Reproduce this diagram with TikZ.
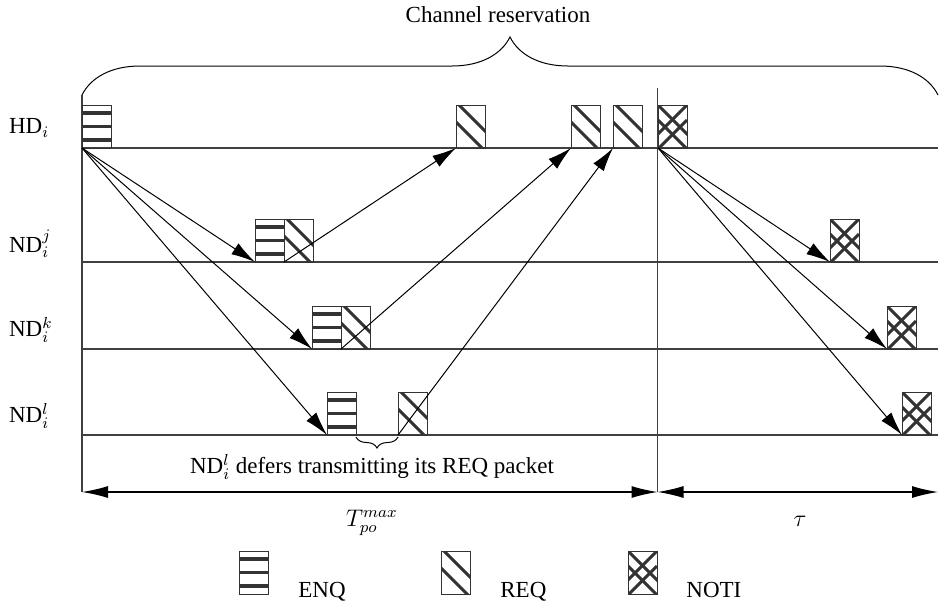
\documentclass[tikz,border=0pt]{standalone}
\usepackage{fontspec}
\setmainfont{Liberation Serif}
\usetikzlibrary{arrows.meta, positioning, decorations.pathreplacing}
\tikzset{
    % Packets
    hatch/.style  = {line width=1.5pt},
    packet/.style = {draw=black!80, line width=0.5pt, minimum width=14.5pt, minimum height=21.5pt,
                     inner sep=0pt, outer sep=0pt, anchor=south west},
    enq/.style    = {packet, path picture={
        \foreach \off in {4pt,10.75pt,17.5pt}
            \draw[hatch, line width=1.8pt] ([yshift=-\off]path picture bounding box.north west) -- ++(15pt,0pt);}},
    req/.style    = {packet, path picture={
        \draw[hatch] ([xshift=1.5pt]path picture bounding box.north west) -- ++(14pt,-14pt);
        \draw[hatch] ([yshift=-8.5pt]path picture bounding box.north west) -- ++(14pt,-14pt);}},
    noti/.style   = {packet, path picture={
        \foreach \off in {0pt,7.5pt} {
            \draw[hatch] ([yshift=-\off]path picture bounding box.north west) -- ++(15pt,-15pt);
            \draw[hatch] ([yshift=-\off]path picture bounding box.north east) -- ++(-15pt,-15pt);}}},
    % Lines and labels
    axis/.style   = {draw=black!75, line width=0.75pt},
    msg/.style    = {line width=0.5pt, -{Latex[length=12pt,width=6.5pt]}},
    span/.style   = {line width=0.6pt, {Latex[length=13pt,width=6pt]}-{Latex[length=13pt,width=6pt]}},
    curly/.style  = {line width=0.5pt, decorate, decoration={brace}},
    station/.style= {anchor=west},
    keytext/.style= {anchor=base west, inner sep=0pt}
}

\begin{document}
\begin{tikzpicture}[x=0.5pt, y=-0.5pt, font=\fontsize{11.5}{14}\selectfont]
    \useasboundingbox (0,0) rectangle (939,607);

    % time axes
    \coordinate (topleft)  at (82,95);
    \coordinate (topright) at (938,95);
    \coordinate (cut)      at (657.5,88);
    \coordinate (botleft)  at (82,492);
    \coordinate (botmid)   at (657.5,492);
    \coordinate (botright) at (938,492);
    \coordinate (hdA)  at (82,148);  \coordinate (hdB)  at (938,148);
    \coordinate (ndjA) at (82,262);  \coordinate (ndjB) at (938,262);
    \coordinate (ndkA) at (82,349);  \coordinate (ndkB) at (938,349);
    \coordinate (ndlA) at (82,435);  \coordinate (ndlB) at (938,435);

    \draw [axis] (hdA) -- (hdB);
    \draw [axis] (ndjA) -- (ndjB);
    \draw [axis] (ndkA) -- (ndkB);
    \draw [axis] (ndlA) -- (ndlB);
    \draw [axis] (topleft) -- (botleft);
    \draw [axis] (cut) -- (botmid);

    \node (hdlbl)  [station] at (2,128) {HD$_i$};
    \node (ndjlbl) [station] at (2,244) {ND$_i^j$};
    \node (ndklbl) [station] at (2,330) {ND$_i^k$};
    \node (ndllbl) [station] at (2,416) {ND$_i^l$};

    % packets
    \node (hdenq)  [enq]  at (82,148) {};
    \node (hdreqa) [req]  at (456,148) {};
    \node (hdreqb) [req]  at (571,148) {};
    \node (hdreqc) [req]  at (613,148) {};
    \node (hdnoti) [noti] at (658,148) {};

    \node (ndjenq)  [enq]  at (255,262) {};
    \node (ndjreq)  [req]  at (ndjenq.south east) {};
    \node (ndjnoti) [noti] at (830,262) {};

    \node (ndkenq)  [enq]  at (312,349) {};
    \node (ndkreq)  [req]  at (ndkenq.south east) {};
    \node (ndknoti) [noti] at (887,349) {};

    \node (ndlenq)  [enq]  at (327,435) {};
    \node (ndlreq)  [req]  at (398,435) {};
    \node (ndlnoti) [noti] at (902,435) {};

    % ENQ broadcast
    \draw [msg] (hdenq.south west) -- (ndjenq.south west);
    \draw [msg] (hdenq.south west) -- (ndkenq.south west);
    \draw [msg] (hdenq.south west) -- (ndlenq.south west);
    % REQ replies
    \draw [msg] (ndjreq.south west) -- (hdreqa.south west);
    \draw [msg] (ndkreq.south west) -- (hdreqb.south west);
    \draw [msg] (ndlreq.south west) -- (hdreqc.south west);
    % NOTI broadcast
    \draw [msg] (hdnoti.south west) -- (ndjnoti.south west);
    \draw [msg] (hdnoti.south west) -- (ndknoti.south west);
    \draw [msg] (hdnoti.south west) -- (ndlnoti.south west);

    % braces
    \draw [curly, decoration={amplitude=29pt}] (topleft) -- (topright);
    \node (resv) at (498,15) {Channel reservation};
    \draw [curly, decoration={mirror, amplitude=5.5pt}] ([yshift=-1pt]ndlenq.south east) -- ([yshift=-1pt]ndlreq.south west);
    \node (defer) at (372,467) {ND$_i^l$ defers transmitting its REQ packet};

    % periods
    \draw [span] (botleft) -- (botmid);
    \draw [span] (botmid) -- (botright);
    \node (tpo) at (372,523) {$T_{po}^{max}$};
    \node (tau) at (800,521) {$\tau$};

    % legend
    \node (keyenq)  [enq]  at (239,594) {};
    \node (keyreq)  [req]  at (441,594) {};
    \node (keynoti) [noti] at (628,594) {};
    \node (enqtxt)  [keytext] at (298,597) {ENQ};
    \node (reqtxt)  [keytext] at (500,597) {REQ};
    \node (notitxt) [keytext] at (686,597) {NOTI};
\end{tikzpicture}
\end{document}
